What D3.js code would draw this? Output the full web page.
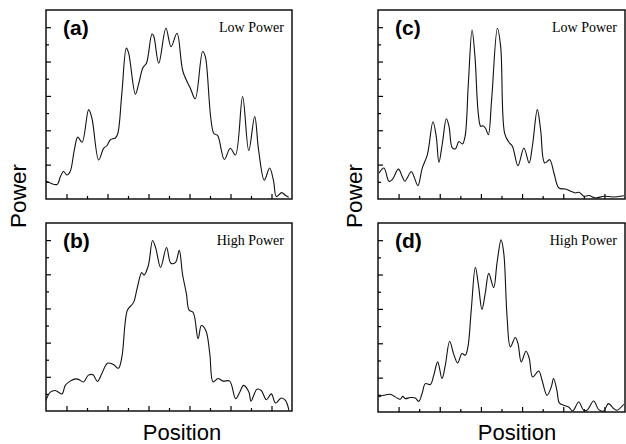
<!DOCTYPE html>
<meta charset="utf-8">
<style>
  body { margin: 0; background: #fff; }
  .tick line { stroke: #000; stroke-width: 1.2; }
  .tick text { display: none; }
</style>
<body>
<script src="https://d3js.org/d3.v7.min.js"></script>
<script>
// tick positions (in axis units)
var xMajor = [1, 3, 5, 7, 9, 11],
    xMinor = [2, 4, 6, 8, 10];
var yMajor = [2, 4, 6, 8, 10],
    yMinor = [1, 3, 5, 7, 9];

// (a) low power
var posA = [0,0.54,0.7,0.86,1.02,1.18,1.38,1.55,1.76,2.08,2.24,2.57,2.81,2.97,3.14,3.38,3.5,3.7,3.92,4.03,4.36,4.52,4.73,4.9,5.17,5.25,5.5,5.85,6.1,6.39,6.68,7.04,7.28,7.64,7.77,8.18,8.37,8.7,8.99,9.24,9.59,9.89,10.18,10.37,10.65,10.91,11.1,11.24,11.5,11.66,11.84];
var powA = [1.05,0.85,1.3,1.6,1.4,1.6,2.85,3.6,3.3,5.2,4.7,2.27,2.95,3.1,3.45,3.55,3.8,6.15,8.78,8.5,6.1,6.7,7.65,7.9,9.6,9.5,7.9,9.94,8.87,9.65,7.42,6.45,5.83,8.58,8.3,3.83,3.7,2.3,2.95,2.56,5.96,2.82,4.8,2.85,1.1,1.8,1.05,0.14,0.37,0.23,0.1];

// (b) high power
var posB = [0,0.21,0.45,0.78,0.94,1.18,1.43,1.59,1.83,2.07,2.29,2.51,2.72,3.0,3.29,3.53,3.7,3.97,4.18,4.29,4.46,4.67,4.78,4.99,5.2,5.36,5.59,5.88,6.09,6.32,6.5,6.66,6.85,6.98,7.18,7.42,7.58,7.8,7.99,8.15,8.39,8.64,8.96,9.25,9.45,9.64,9.9,10.0,10.29,10.5,10.75,10.99,11.2,11.47,11.68,11.85];
var powB = [0.62,1.1,1.2,1.0,1.5,1.75,1.88,1.85,1.7,2.1,2.12,1.73,2.18,2.8,2.72,2.5,3.15,5.9,6.2,6.4,7.25,8.1,7.95,8.5,9.98,9.5,8.4,9.57,8.65,8.7,9.4,8.0,6.85,5.9,5.76,4.23,5.0,4.7,3.35,1.7,1.9,1.75,1.75,0.72,1.1,1.5,1.1,0.58,1.27,1.2,0.66,1.0,0.47,0.76,0.62,0.04];

// (c) low power
var posC = [0.05,0.29,0.53,0.69,0.99,1.18,1.3,1.62,1.75,1.94,2.15,2.4,2.67,2.83,2.96,3.13,3.32,3.45,3.61,3.77,3.93,4.1,4.23,4.39,4.57,4.71,4.87,4.99,5.1,5.23,5.36,5.52,5.8,5.96,6.15,6.36,6.53,6.8,7.09,7.34,7.5,7.74,7.9,8.1,8.34,8.55,8.79,9.11,9.36,9.6,9.77,10.0,10.25,10.57,10.98,11.39,11.95];
var powC = [1.5,1.8,1.03,1.13,1.74,1.3,1.03,1.6,1.3,0.78,1.8,2.58,4.5,3.64,2.13,3.26,4.67,4.23,2.97,2.93,3.35,3.2,3.64,6.74,9.84,8.3,5.0,4.23,4.26,4.1,3.74,5.77,9.94,8.87,3.84,3.3,3.07,1.94,2.97,2.1,3.07,5.2,4.03,2.1,2.29,1.5,0.64,0.58,0.45,0.35,0.39,0.16,0.2,0.06,0.16,0.12,0.19];

// (d) high power
var posD = [0.03,0.28,0.6,0.84,1.08,1.2,1.33,1.57,1.81,1.98,2.14,2.3,2.54,2.71,2.9,3.11,3.27,3.48,3.67,3.87,4.08,4.24,4.37,4.53,4.73,4.89,5.05,5.21,5.38,5.62,5.78,5.98,6.11,6.27,6.43,6.67,6.8,6.96,7.19,7.35,7.51,7.81,7.97,8.21,8.42,8.53,8.69,8.81,9.02,9.26,9.46,9.75,9.99,10.15,10.48,10.72,10.96,11.2,11.45,11.61,11.94];
var powD = [0.88,0.97,1.03,0.88,0.74,0.91,0.78,0.84,0.82,0.62,1.07,1.65,1.6,2.14,2.92,1.95,2.72,4.12,3.4,2.86,3.4,3.3,3.79,5.93,8.42,7.3,5.97,6.9,8.07,7.24,8.65,10.02,9.25,5.54,3.79,4.34,3.99,2.92,3.54,3.11,2.04,2.39,1.85,0.97,1.46,1.95,1.27,0.53,0.39,0.29,0.06,0.58,0.1,0.1,0.64,0.14,0.06,0.49,0.2,0.1,0.45];

var panels = [
  {x0: 46,  x1: 292, y0: 10,  y1: 199, pos: posA, pow: powA, tag: "(a)", note: "Low Power"},
  {x0: 378, x1: 625, y0: 10,  y1: 199, pos: posC, pow: powC, tag: "(c)", note: "Low Power"},
  {x0: 46,  x1: 292, y0: 223, y1: 411, pos: posB, pow: powB, tag: "(b)", note: "High Power"},
  {x0: 378, x1: 625, y0: 223, y1: 412, pos: posD, pow: powD, tag: "(d)", note: "High Power"}
];

var svg = d3.select("body").append("svg")
    .attr("width", 626)
    .attr("height", 444);

panels.forEach(function(p) {
  var x = d3.scaleLinear().domain([0, 12]).range([p.x0, p.x1]);
  var y = d3.scaleLinear().domain([0, 11]).range([p.y1, p.y0]);
  var g = svg.append("g");

  // ticks point inward
  g.append("g").attr("transform", "translate(0," + p.y1 + ")")
    .call(d3.axisBottom(x).tickValues(xMajor).tickSize(-5)).select(".domain").remove();
  g.append("g").attr("transform", "translate(0," + p.y1 + ")")
    .call(d3.axisBottom(x).tickValues(xMinor).tickSize(-3)).select(".domain").remove();
  g.append("g").attr("transform", "translate(" + p.x0 + ",0)")
    .call(d3.axisLeft(y).tickValues(yMajor).tickSize(-5)).select(".domain").remove();
  g.append("g").attr("transform", "translate(" + p.x0 + ",0)")
    .call(d3.axisLeft(y).tickValues(yMinor).tickSize(-3)).select(".domain").remove();

  g.append("rect")
    .attr("x", p.x0).attr("y", p.y0)
    .attr("width", p.x1 - p.x0).attr("height", p.y1 - p.y0)
    .attr("fill", "none").attr("stroke", "#000").attr("stroke-width", 1.4);

  var line = d3.line()
    .x(function(d, i) { return x(p.pos[i]); })
    .y(function(d) { return y(d); })
    .curve(d3.curveCatmullRom.alpha(0.5));

  g.append("path")
    .datum(p.pow)
    .attr("d", line)
    .attr("fill", "none")
    .attr("stroke", "#111")
    .attr("stroke-width", 1.1);

  g.append("text")
    .attr("x", p.x0 + 17).attr("y", p.y0 + 25)
    .attr("font-family", "Liberation Sans, Arial, sans-serif")
    .attr("font-weight", "bold").attr("font-size", 21)
    .text(p.tag);

  g.append("text")
    .attr("x", p.x1 - 8).attr("y", p.y0 + 22)
    .attr("text-anchor", "end")
    .attr("font-family", "Liberation Serif, Times New Roman, serif")
    .attr("font-size", 14)
    .text(p.note);
});

// axis titles
[{x: 182, y: 440}, {x: 517, y: 440}].forEach(function(t) {
  svg.append("text")
    .attr("x", t.x).attr("y", t.y)
    .attr("text-anchor", "middle")
    .attr("font-family", "Liberation Sans, Arial, sans-serif")
    .attr("font-size", 22)
    .text("Position");
});
[{x: 26, y: 196}, {x: 362, y: 196}].forEach(function(t) {
  svg.append("text")
    .attr("transform", "translate(" + t.x + "," + t.y + ") rotate(-90)")
    .attr("text-anchor", "middle")
    .attr("font-family", "Liberation Sans, Arial, sans-serif")
    .attr("font-size", 22.5)
    .text("Power");
});
</script>
</body>
